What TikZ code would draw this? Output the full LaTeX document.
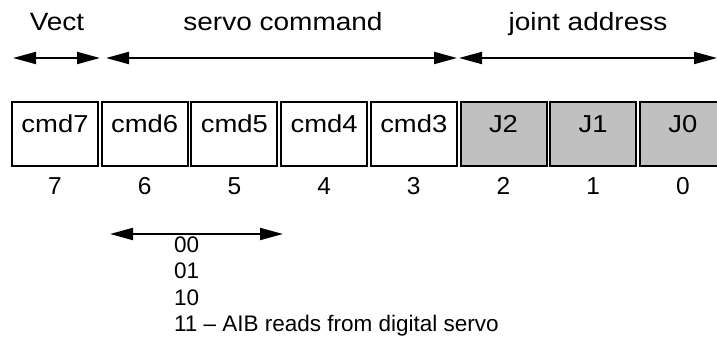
\documentclass[tikz,border=0pt]{standalone}
\usepackage{fontspec}
\setmainfont{Liberation Sans}
\newfontfamily\widefont{Liberation Sans}[FakeStretch=1.12]
\usetikzlibrary{arrows.meta}
\definecolor{fieldgray}{RGB}{192,192,192}
\tikzset{
  every node/.style={inner sep=0pt, outer sep=0pt},
  cell/.style={draw=black, line width=2pt, minimum width=86pt, minimum height=64pt},
  jcell/.style={cell, fill=fieldgray},
  hdr/.style={anchor=base, font=\widefont\fontsize{25}{28}\selectfont},
  celltext/.style={anchor=base, font=\widefont\fontsize{24.5}{28}\selectfont},
  bitno/.style={anchor=base, font=\fontsize{24.5}{28}\selectfont},
  code/.style={anchor=base west, font=\fontsize{22.5}{26}\selectfont},
  span/.style={line width=2pt, {Triangle[length=23pt,width=12pt]}-{Triangle[length=23pt,width=12pt]}}
}
\begin{document}
\begin{tikzpicture}[x=1pt,y=-1pt]
\useasboundingbox (0,0) rectangle (717,347);
\clip (0,0) rectangle (717,347);
% field headers
\node[hdr] (hv) at (57,31) {Vect};
\node[hdr] (hs) at (283,31) {servo command};
\node[hdr] (hj) at (588,31) {joint address};
% header spans
\coordinate (v0) at (13,58);  \coordinate (v1) at (100,58);
\coordinate (s0) at (106,58); \coordinate (s1) at (457,58);
\coordinate (j0) at (459,58); \coordinate (j1) at (717,58);
\draw[span] (v0) -- (v1);
\draw[span] (s0) -- (s1);
\draw[span] (j0) -- (j1);
% register cells
\foreach \k/\name/\lab/\sty in {0/b7/cmd7/cell, 1/b6/cmd6/cell, 2/b5/cmd5/cell, 3/b4/cmd4/cell,
                                 4/b3/cmd3/cell, 5/b2/J2/jcell, 6/b1/J1/jcell, 7/b0/J0/jcell}{
  \node[\sty] (\name) at ({55+89.7*\k},134) {};
  \node[celltext] (\name t) at ({55+89.7*\k},133) {\lab};
  \pgfmathtruncatemacro{\bit}{7-\k}
  \node[bitno] (\name n) at ({55+89.7*\k},195) {\bit};
}
% servo command sub-field
\coordinate (c0) at (110,234); \coordinate (c1) at (283,234);
\draw[span] (c0) -- (c1);
\node[code] (c00) at (174,253) {00};
\node[code] (c01) at (174,279) {01};
\node[code] (c10) at (174,305) {10};
\node[code] (c11) at (174,331) {11 -- AIB reads from digital servo};
\end{tikzpicture}
\end{document}
